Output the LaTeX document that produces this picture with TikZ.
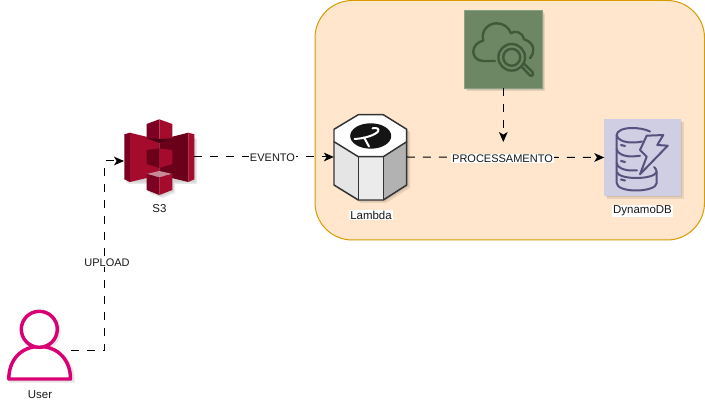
\documentclass[tikz,border=0pt]{standalone}
\usepackage{fontspec}
\setmainfont{Liberation Sans}
\usetikzlibrary{arrows.meta}
\definecolor{groupfill}{HTML}{FFE6CC}
\definecolor{groupline}{HTML}{D79B00}
\definecolor{greenfill}{HTML}{6D8764}
\definecolor{greenicon}{HTML}{3F5A38}
\definecolor{purplefill}{HTML}{D0CEE2}
\definecolor{purpleicon}{HTML}{56517E}
\definecolor{userpink}{HTML}{D80073}
\definecolor{redA}{HTML}{A50B2D}
\definecolor{redB}{HTML}{7C0021}
\definecolor{redC}{HTML}{6A001A}
\definecolor{redD}{HTML}{C78A98}
\tikzset{
  x=0.75pt,y=-0.75pt,
  anchorbox/.style={inner sep=0pt,outer sep=0pt},
  conn/.style={draw=black,line width=0.75pt,dash pattern=on 6pt off 6pt,-{Stealth[length=7.5pt,width=6.5pt,inset=2pt]}},
  lab/.style={font=\fontsize{8.6pt}{10pt}\selectfont,text=black!90,inner sep=0.6pt},
  edgelab/.style={font=\fontsize{8.25pt}{10pt}\selectfont,text=black!90,inner sep=0.6pt,fill=white},
  soft/.style={fill=black,opacity=0.09,draw=none},
  lbd/.style={draw=black!80,line width=1.1pt,line join=round},
  gicon/.style={draw=greenicon,line width=1.8pt,line cap=round,line join=round},
  picon/.style={draw=purpleicon,line width=1.5pt,line cap=round,line join=round},
}
\begin{document}
\begin{tikzpicture}
\useasboundingbox (0,0) rectangle (705,402);
\fill[white] (0,0) rectangle (705,402);
% group
\draw[fill=groupfill,draw=groupline,line width=0.75pt,rounded corners=28pt] (315,0.5) rectangle (704.5,240);
% anchors
\node[anchorbox,minimum width=52.5pt,minimum height=57pt] (s3) at (159,157) {};
\node[anchorbox,minimum width=54.8pt,minimum height=64pt] (lambda) at (370.4,157) {};
\node[anchorbox,minimum width=57.3pt,minimum height=57.6pt] (dynamo) at (642.5,157.5) {};
\node[anchorbox,minimum width=58.5pt,minimum height=58.2pt] (watch) at (503.3,49.5) {};
\node[anchorbox,minimum width=47.2pt,minimum height=52pt] (user) at (39.7,346) {};
\coordinate (s3in) at (124,161);
\coordinate (userout) at (71,350.5);
\coordinate (bend) at (104.5,350.5);
\coordinate (watchto) at (503.3,142);
% S3
\begin{scope}
 \foreach \d in {1.5,3}{
 \fill[soft] (124.3+\d,136+\d) -- (194+\d,136+\d) -- (194+\d,181+\d) -- (172+\d,181+\d) -- (172+\d,190+\d) -- (159.3+\d,195+\d) -- (146.7+\d,190+\d) -- (146.7+\d,181+\d) -- (124.3+\d,181+\d) -- cycle;}
 \fill[redB] (124.3,134.3) -- (130,132.7) -- (130,182) -- (124.3,179.3) -- cycle;
 \fill[redA] (130,132.7) -- (159.3,140) -- (159.3,175) -- (130,182) -- cycle;
 \fill[redC] (188.3,132.7) -- (159.3,140) -- (159.3,175) -- (188.3,182) -- cycle;
 \fill[redA] (194.3,134.3) -- (188.3,132.7) -- (188.3,182) -- (194.3,179.3) -- cycle;
 % centre cube
 \fill[redC] (146.7,150) -- (159.3,148.5) -- (159.3,168) -- (146.7,164) -- cycle;
 \fill[redA] (172.3,150) -- (159.3,148.5) -- (159.3,168) -- (172.3,164) -- cycle;
 % top cube
 \fill[redB] (146.7,124) -- (159.3,119.3) -- (159.3,143) -- (146.7,138.3) -- cycle;
 \fill[redA] (172.3,124) -- (159.3,119.3) -- (159.3,143) -- (172.3,138.3) -- cycle;
 \fill[redC!70!black] (146.7,138.3) -- (159.3,139) -- (172.3,138.3) -- (159.3,143) -- cycle;
 % bottom cube
 \fill[redD] (146.7,174) -- (159.3,171) -- (172.3,174) -- (159.3,177.3) -- cycle;
 \fill[redB] (146.7,174) -- (159.3,177.3) -- (159.3,195) -- (146.7,190) -- cycle;
 \fill[redA] (172.3,174) -- (159.3,177.3) -- (159.3,195) -- (172.3,190) -- cycle;
\end{scope}
% Lambda
\begin{scope}
 \foreach \d in {1.5,3}{
 \fill[soft] (334+\d,129+\d) -- (358+\d,115+\d) -- (383+\d,115+\d) -- (407+\d,129+\d) -- (407+\d,185+\d) -- (383+\d,200+\d) -- (358+\d,200+\d) -- (334+\d,185+\d) -- cycle;}
 \fill[black!10] (334,141.7) -- (358.3,156.7) -- (358.3,200) -- (334,185) -- cycle;
 \fill[black!8] (358.3,156.7) -- (383.3,156.7) -- (383.3,200) -- (358.3,200) -- cycle;
 \fill[black!30] (383.3,156.7) -- (406.7,141.7) -- (406.7,185) -- (383.3,200) -- cycle;
 \draw[lbd,fill=white] (334,129.3) -- (358.3,114.7) -- (383.3,114.7) -- (406.7,129.3) -- (406.7,141.7) -- (383.3,156.7) -- (358.3,156.7) -- (334,141.7) -- cycle;
 \draw[lbd] (334,141.7) -- (334,185) -- (358.3,200) -- (383.3,200) -- (406.7,185) -- (406.7,141.7);
 \draw[lbd] (358.3,156.7) -- (358.3,200) (383.3,156.7) -- (383.3,200);
 \fill[black!92] (370.7,136) ellipse [x radius=20.5,y radius=12.7];
 \draw[white,line width=1.5pt,line cap=round,line join=round] (372.5,128.3) .. controls (376,127.5) and (380,128.5) .. (378,131.5) .. controls (375,135) and (365,138.5) .. (354.5,139);
 \draw[white,line width=1.5pt,line cap=round] (364,137.5) .. controls (365.5,140) and (367,143) .. (369,146.5);
\end{scope}
% Watch
\begin{scope}
 \foreach \d in {1.5,3}{\fill[soft] (464.3+\d,10.7+\d) rectangle (542.3+\d,88.3+\d);}
 \draw[fill=greenfill,draw=greenfill!80!white,line width=0.75pt] (464.3,10.7) rectangle (542.3,88.3);
 \draw[gicon] (495,61) -- (483.3,61) .. controls (477,61) and (473.3,56.5) .. (473.3,51.7) .. controls (473.3,46) and (478,41.5) .. (483.3,40.7) .. controls (480.5,31) and (488,23.3) .. (496.7,23.3) .. controls (504,23.3) and (509,28) .. (511,33.3) .. controls (514,30.5) and (522,31) .. (524,39.3) .. controls (530,41) and (533.3,45) .. (533.3,50) .. controls (533.3,53) and (532,56) .. (530,58.3);
 \draw[gicon] (511.7,57.3) circle [radius=13.3];
 \draw[gicon] (511.7,57.3) circle [radius=8.5];
 \draw[gicon] (521.5,66.5) -- (529,74.5) .. controls (531,77.5) and (534.5,75) .. (532.5,72) -- (524.3,64);
\end{scope}
% Dynamo
\begin{scope}
 \foreach \d in {1.5,3}{\fill[soft] (604.3+\d,119.3+\d) rectangle (680.7+\d,196+\d);}
 \fill[purplefill] (604.3,119.3) rectangle (680.7,196);
 \draw[picon] (650,131.5) .. controls (645,129) and (638,128) .. (632,128) .. controls (623,128) and (616.7,131) .. (616.7,135) .. controls (616.7,139.5) and (624,142.5) .. (632,142.5) .. controls (635,142.5) and (639,142.3) .. (642,141.5);
 \draw[picon] (616.7,135) -- (616.7,149) .. controls (616.7,153.5) and (624,156.5) .. (632,156.5) -- (640,155.8);
 \draw[picon] (616.7,149) -- (616.7,163) .. controls (616.7,167.5) and (624,170.5) .. (632,170.5) -- (637,170.3);
 \draw[picon] (616.7,163) -- (616.7,183) .. controls (616.7,187.5) and (625,190.5) .. (636,190.5) .. controls (647,190.5) and (656.7,187.5) .. (656.7,183) -- (656.7,172) .. controls (656.7,169.5) and (655,168) .. (654,167);
 \draw[picon] (616.7,172) .. controls (618,176) and (627,178) .. (636,178) .. controls (646,178) and (655,176) .. (656.7,172);
 \draw[picon] (646.7,135.7) -- (663.3,135) -- (657.3,145) -- (667.7,145.7) -- (640,174.3) -- (646.7,156.7) -- (640,150) -- cycle;
 \draw[picon,line width=1.6pt] (621,145) -- (625,146) (621,161) -- (625,162) (621,179.5) -- (625,180.5);
\end{scope}
% User
\begin{scope}
 \draw[black,opacity=0.1,line width=2.6pt] (41,331) circle [radius=18];
 \draw[black,opacity=0.1,line width=2.6pt] (10.5,381) .. controls (10.5,362) and (23,349) .. (41.5,349) .. controls (60,349) and (73,362) .. (73,381) -- cycle;
 \draw[userpink,fill=white,line width=2.6pt,line join=round] (8.8,379) .. controls (8.8,360) and (21,346.5) .. (39.5,346.5) .. controls (58,346.5) and (70.5,360) .. (70.5,379) -- cycle;
 \draw[userpink,fill=white,line width=2.6pt] (39.3,329.3) circle [radius=18];
\end{scope}
% connectors
\draw[conn] (userout) -- (bend) |- (s3in);
\draw[conn] (s3.east) -- (lambda.west);
\draw[conn] (lambda.east) -- (dynamo.west);
\draw[conn] (watch.south) -- (watchto);
% labels
\node[edgelab] (lupload) at (107,262.5) {UPLOAD};
\node[edgelab] (levento) at (272.5,157.3) {EVENTO};
\node[edgelab] (lproc) at (502.5,158.6) {PROCESSAMENTO};
\node[lab] (ls3) at (159.5,209) {S3};
\node[lab,fill=white] (llambda) at (371,215) {Lambda};
\node[lab,fill=white] (ldyn) at (642.5,211) {DynamoDB};
\node[lab] (luser) at (40,394.5) {User};
\end{tikzpicture}
\end{document}
